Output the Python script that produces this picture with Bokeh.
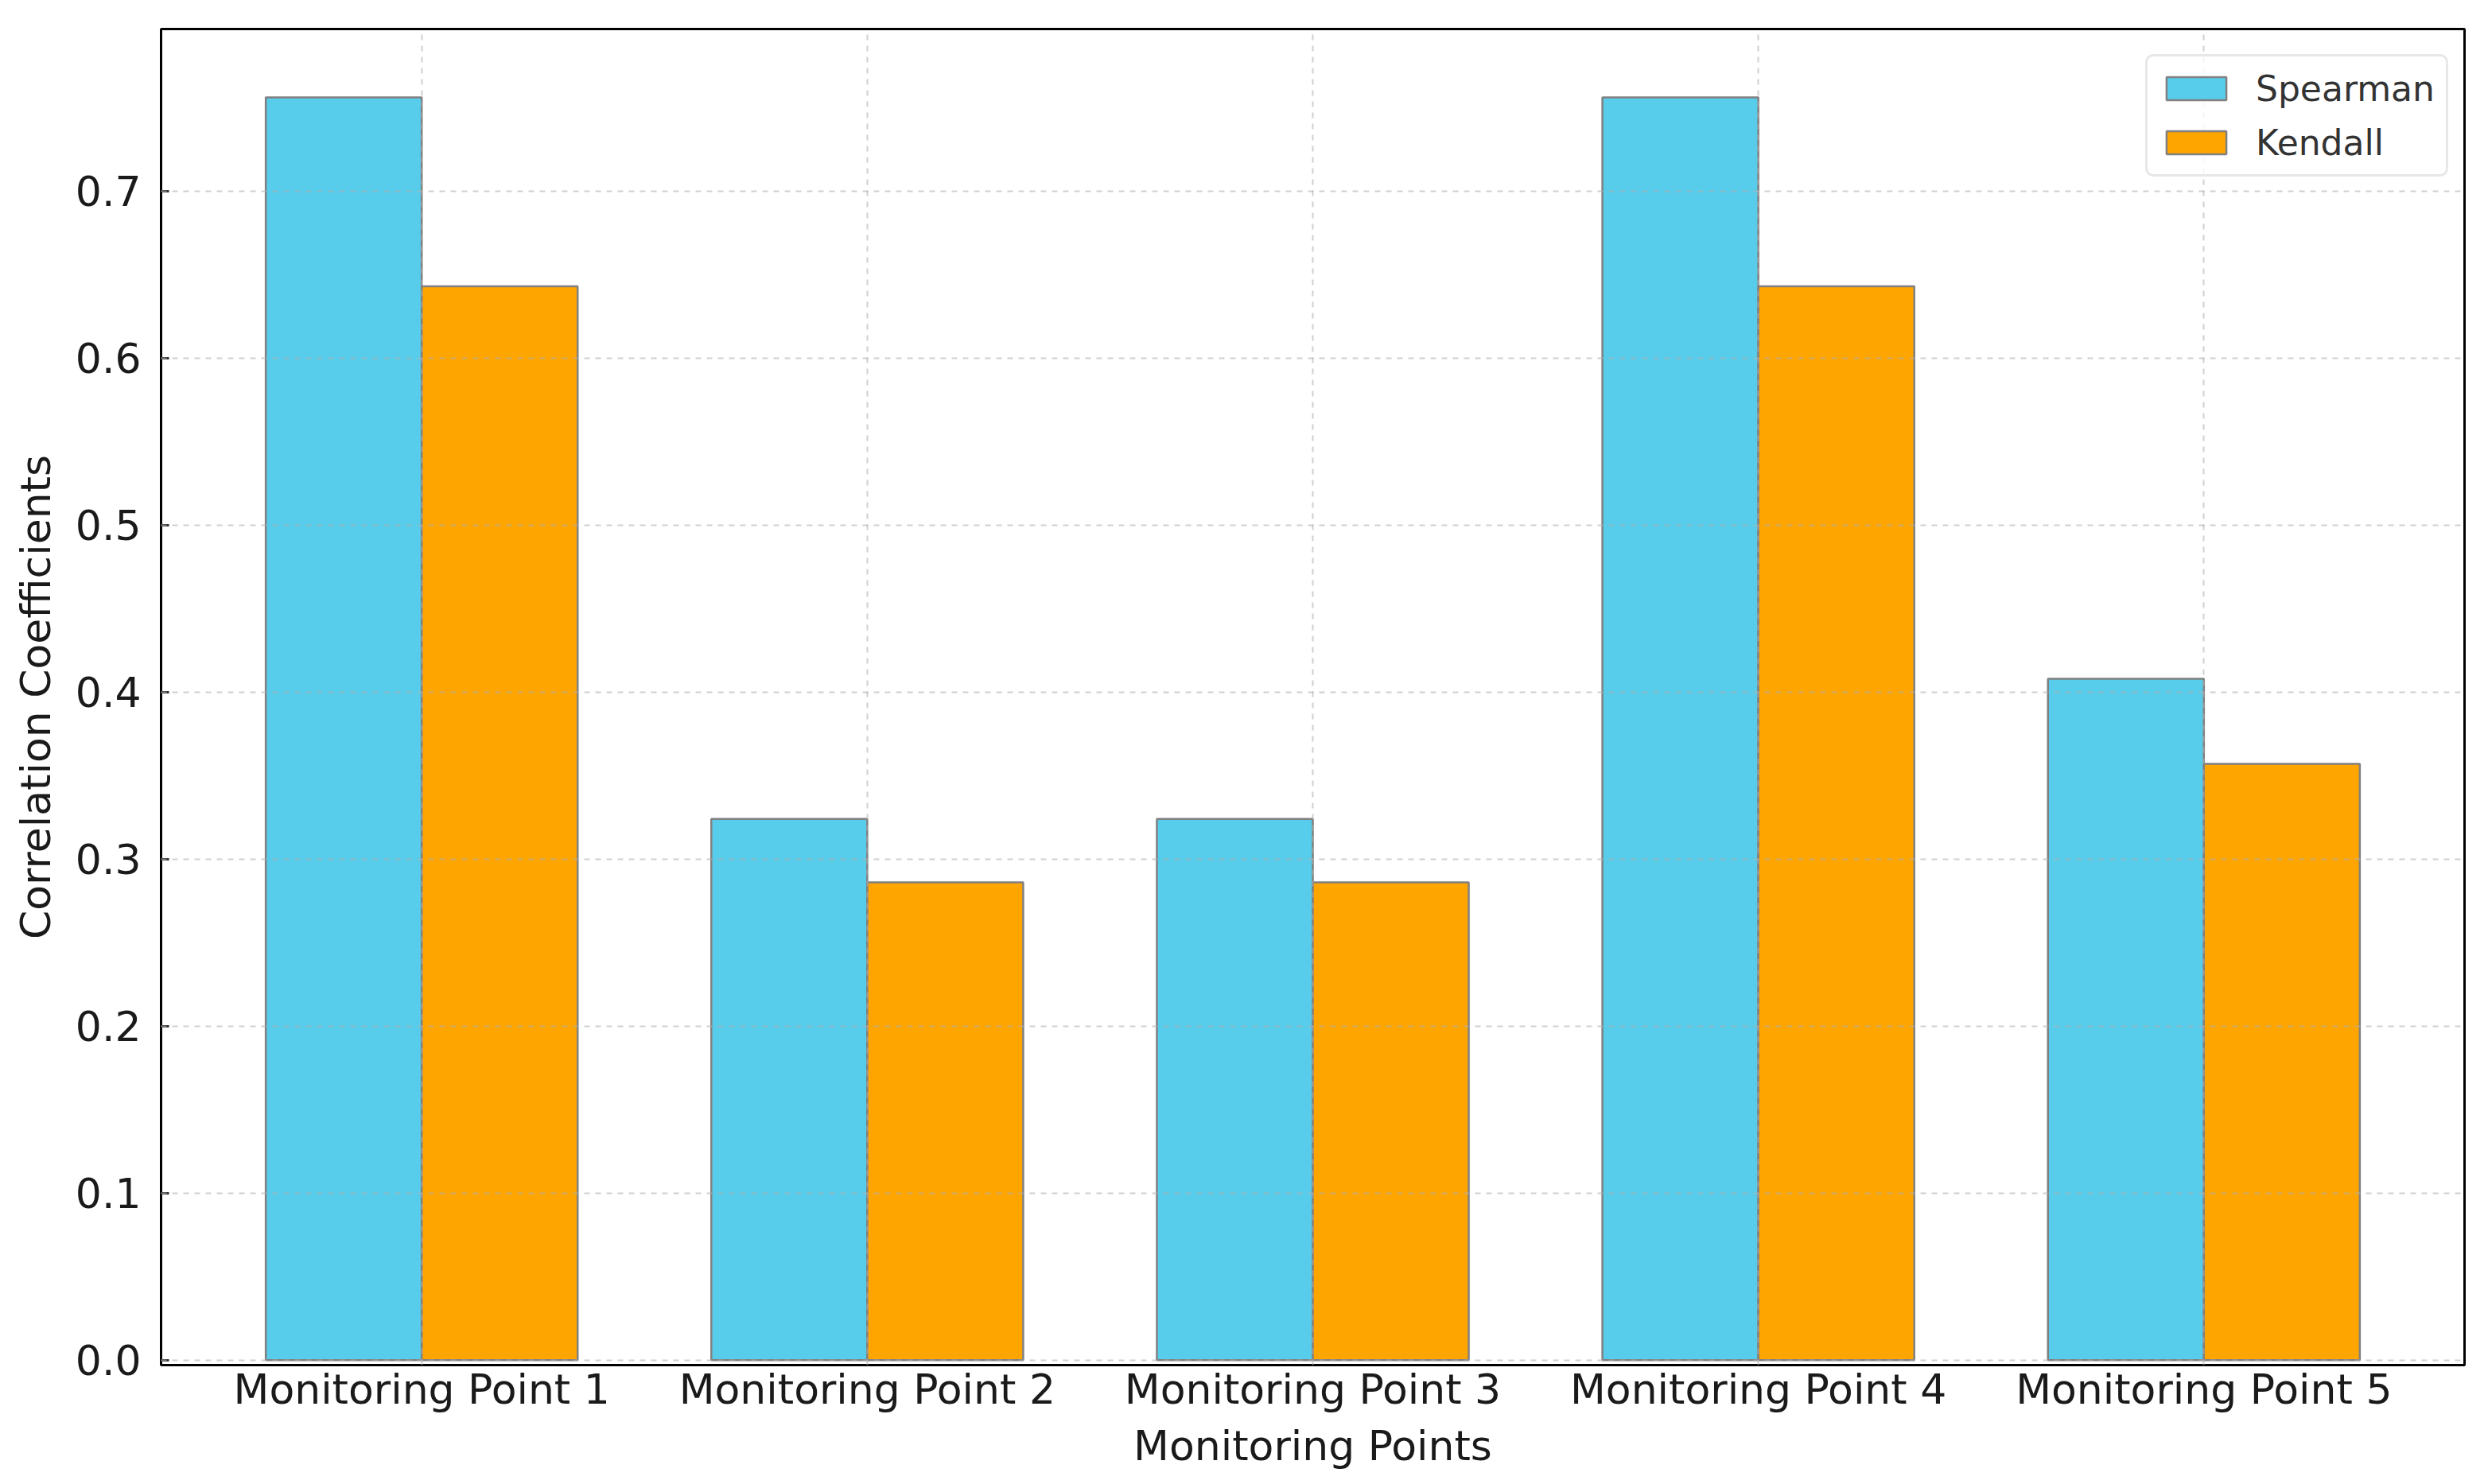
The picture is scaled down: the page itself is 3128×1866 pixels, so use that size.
from bokeh.plotting import figure
from bokeh.models import Range1d, FixedTicker, Legend, LegendItem, PrintfTickFormatter
from bokeh.embed import file_html
from bokeh.resources import INLINE

categories = ["Monitoring Point 1", "Monitoring Point 2", "Monitoring Point 3",
              "Monitoring Point 4", "Monitoring Point 5"]
spearman = [0.756, 0.324, 0.324, 0.756, 0.408]
kendall = [0.643, 0.286, 0.286, 0.643, 0.357]
y_ticks = [0.0, 0.1, 0.2, 0.3, 0.4, 0.5, 0.6, 0.7]

bar_w = 0.35
xs = list(range(len(categories)))
x_sp = [x - bar_w / 2 for x in xs]
x_kd = [x + bar_w / 2 for x in xs]

FONT = "DejaVu Sans"

p = figure(width=3112, height=1850, output_backend="svg", toolbar_location=None,
           x_range=Range1d(-0.585, 4.585), y_range=Range1d(-0.003, 0.797),
           min_border_left=202, min_border_right=14, min_border_top=36,
           min_border_bottom=110)

r1 = p.vbar(x=x_sp, top=spearman, width=bar_w, bottom=0, fill_color="#58CDEB",
            line_color="#808080", line_width=2.5)
r2 = p.vbar(x=x_kd, top=kendall, width=bar_w, bottom=0, fill_color="#FFA500",
            line_color="#808080", line_width=2.5)

p.outline_line_color = "black"
p.outline_line_width = 3

for ax in (p.xaxis[0], p.yaxis[0]):
    ax.axis_line_color = None
    ax.major_label_text_font = FONT
    ax.major_label_text_font_size = "52px"
    ax.major_label_text_color = "#1a1a1a"
    ax.axis_label_text_font = FONT
    ax.axis_label_text_font_size = "52px"
    ax.axis_label_text_font_style = "normal"
    ax.axis_label_text_color = "#1a1a1a"
    ax.minor_tick_line_color = None

p.xaxis.ticker = FixedTicker(ticks=xs)
p.xaxis.major_label_overrides = {i: c for i, c in enumerate(categories)}
p.xaxis.major_tick_line_color = None
p.xaxis.major_tick_in = 0
p.xaxis.major_tick_out = 0
p.xaxis.major_label_standoff = 0
p.xaxis.axis_label = "Monitoring Points"
p.xaxis.axis_label_standoff = 8

p.yaxis.ticker = FixedTicker(ticks=y_ticks)
p.yaxis.formatter = PrintfTickFormatter(format="%.1f")
p.yaxis.major_tick_in = 10
p.yaxis.major_tick_out = 0
p.yaxis.major_tick_line_color = "#333333"
p.yaxis.major_tick_line_width = 3
p.yaxis.major_label_standoff = 25
p.yaxis.axis_label = "Correlation Coefficients"
p.yaxis.axis_label_standoff = 17

for g in (p.xgrid[0], p.ygrid[0]):
    g.grid_line_color = "#b0b0b0"
    g.grid_line_alpha = 0.6
    g.grid_line_dash = "7 7"
    g.grid_line_width = 2
    g.level = "guide"
p.xgrid.ticker = FixedTicker(ticks=xs)
p.ygrid.ticker = FixedTicker(ticks=y_ticks)

legend = Legend(items=[LegendItem(label="Spearman", renderers=[r1]),
                       LegendItem(label="Kendall", renderers=[r2])],
                location=(2495, 1494))
legend.label_text_font = FONT
legend.label_text_font_size = "44px"
legend.label_text_color = "#333333"
legend.glyph_width = 94
legend.glyph_height = 36
legend.label_height = 52
legend.label_standoff = 28
legend.padding = 14
legend.spacing = 16
legend.margin = 0
legend.border_line_color = "#d0d0d0"
legend.border_line_width = 3
legend.border_radius = 10
legend.background_fill_alpha = 0.8
p.add_layout(legend, "center")

open("out.html", "w").write(file_html(p, INLINE))
